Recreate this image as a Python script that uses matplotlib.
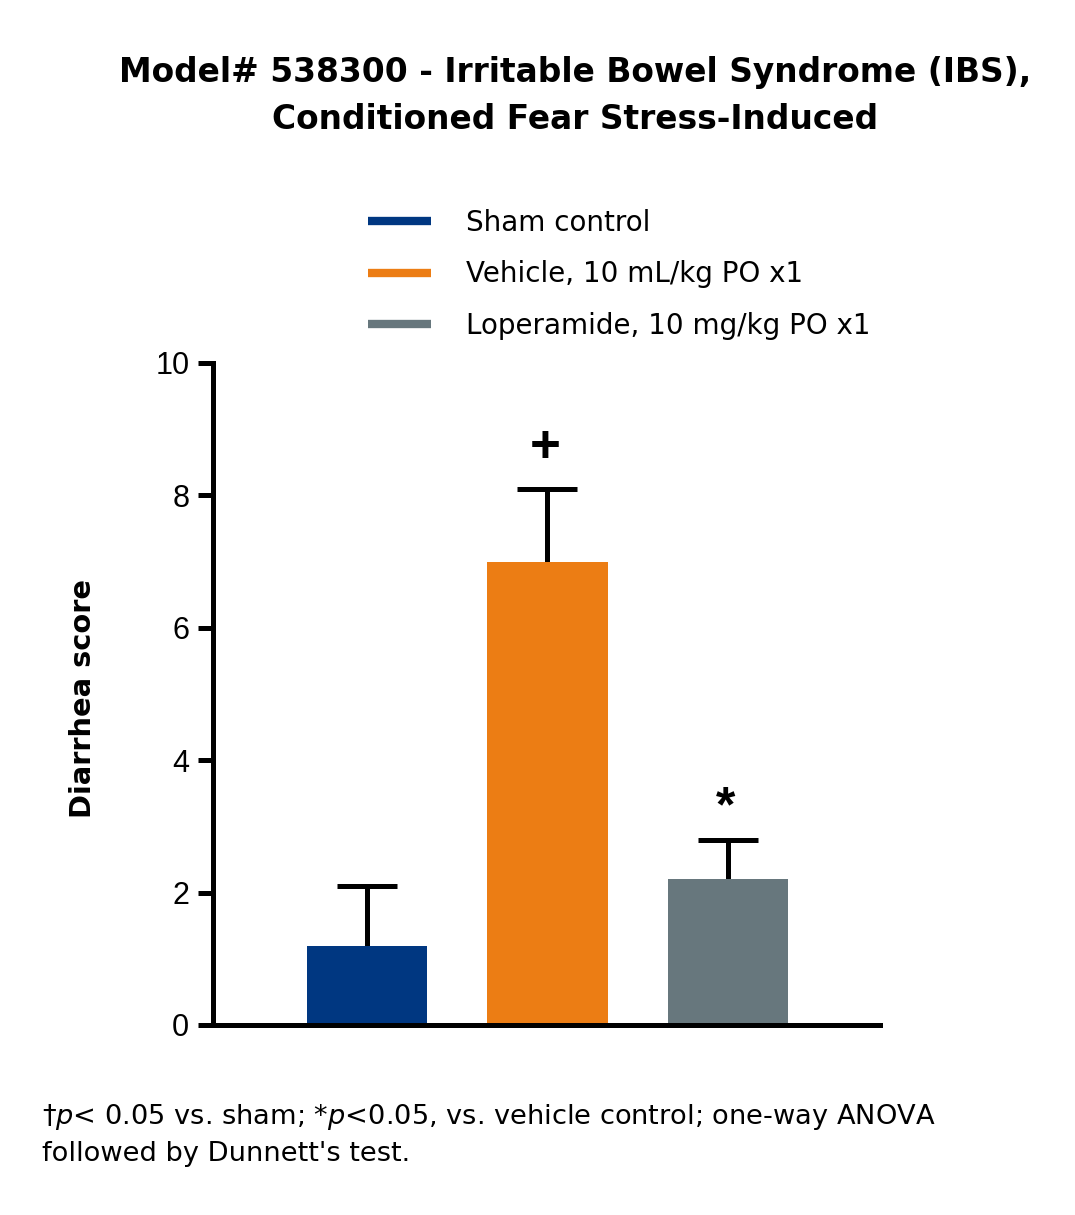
import matplotlib
matplotlib.use("Agg")
import matplotlib.pyplot as plt
from matplotlib.lines import Line2D

plt.rcParams['font.family'] = ['Liberation Sans', 'DejaVu Sans']
plt.rcParams['mathtext.fontset'] = 'custom'
plt.rcParams['mathtext.it'] = 'DejaVu Sans:italic'
plt.rcParams['mathtext.rm'] = 'DejaVu Sans'
WIDE = ['DejaVu Sans']

groups = ["Sham control", "Vehicle, 10 mL/kg PO x1", "Loperamide, 10 mg/kg PO x1"]
means = [1.2, 7.0, 2.2]
errors = [0.9, 1.1, 0.6]
colors = ["#003781", "#EC7D14", "#67777D"]
sig_marks = ["", "+", "*"]
yticks = [0, 2, 4, 6, 8, 10]

fig = plt.figure(figsize=(10.75, 12.15), dpi=100)
ax = fig.add_axes([0.1981, 0.1564, 0.6205, 0.5449])

x = list(range(len(groups)))
LW = 3.6
ax.bar(x, means, width=0.667, color=colors, zorder=2)
tops = [m + e for m, e in zip(means, errors)]
ax.vlines(x, means, tops, colors='black', lw=LW, zorder=1)
ax.hlines(tops, [xi - 0.167 for xi in x], [xi + 0.167 for xi in x], colors='black', lw=LW, zorder=1)

mark_y = [0, 8.72, 3.47]
for xi, m, my in zip(x, sig_marks, mark_y):
    if m == "+":
        ax.text(xi - 0.01, my, m, ha='center', va='center', fontsize=38, fontweight='bold')
    elif m == "*":
        ax.text(xi - 0.01, my - 0.2, m, ha='center', va='center', fontsize=36, fontweight='bold')

ax.set_xlim(-0.855, 2.845)
ax.set_ylim(0, 10)
ax.set_yticks(yticks)
ax.set_yticklabels([str(t) for t in yticks], fontsize=22)
ax.set_xticks([])
for s in ['top', 'right']:
    ax.spines[s].set_visible(False)
for s in ['left', 'bottom']:
    ax.spines[s].set_linewidth(LW)
ax.spines['left'].set_capstyle('projecting')
ax.tick_params(axis='y', width=LW, length=11, pad=6)
ax.set_ylabel("Diarrhea score", fontsize=20.8, fontweight='bold', family=WIDE)
ax.yaxis.set_label_coords(-0.174, 0.4924)

handles = [Line2D([0], [0], color=c, lw=6, solid_capstyle='butt') for c in colors]
fig.legend(handles, groups, loc='upper left', bbox_to_anchor=(0.3316, 0.8373),
           frameon=False, prop={'family': WIDE, 'size': 20}, handlelength=2.3, handletextpad=1.26,
           labelspacing=0.85, borderaxespad=0)

fig.text(0.535, 0.940, "Model# 538300 - Irritable Bowel Syndrome (IBS),",
         ha='center', va='center', fontsize=23.7, fontweight='bold', family=WIDE)
fig.text(0.535, 0.902, "Conditioned Fear Stress-Induced",
         ha='center', va='center', fontsize=23.7, fontweight='bold', family=WIDE)

fig.text(0.039, 0.081, r"†$\it{p}$< 0.05 vs. sham; *$\it{p}$<0.05, vs. vehicle control; one-way ANOVA",
         ha='left', va='center', fontsize=19.6, family=WIDE)
fig.text(0.039, 0.050, "followed by Dunnett's test.", ha='left', va='center', fontsize=19.6, family=WIDE)

fig.savefig("out.png", dpi=100)
